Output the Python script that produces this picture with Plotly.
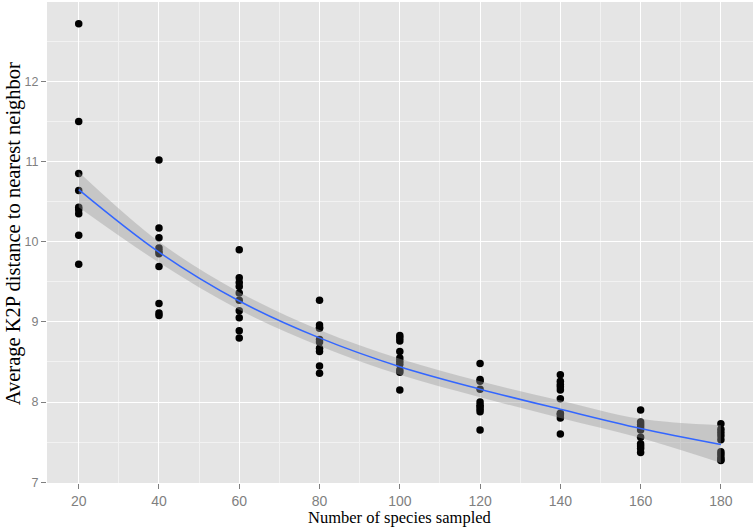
import plotly.graph_objects as go

# Observed data: number of species sampled vs average K2P distance
x_levels = [20, 40, 60, 80, 100, 120, 140, 160, 180]
y_20 = [12.72, 11.50, 10.85, 10.64, 10.43, 10.40, 10.35, 10.08, 9.72]
y_40 = [11.02, 10.17, 10.05, 9.92, 9.88, 9.85, 9.69, 9.23, 9.11, 9.08]
y_60 = [9.90, 9.55, 9.49, 9.44, 9.36, 9.27, 9.14, 9.05, 8.89, 8.80]
y_80 = [9.27, 8.96, 8.93, 8.92, 8.78, 8.75, 8.67, 8.63, 8.45, 8.36]
y_100 = [8.83, 8.80, 8.76, 8.63, 8.55, 8.51, 8.47, 8.40, 8.37, 8.15]
y_120 = [8.48, 8.28, 8.26, 8.16, 8.00, 7.96, 7.94, 7.91, 7.88, 7.65]
y_140 = [8.34, 8.26, 8.22, 8.19, 8.15, 8.04, 7.86, 7.84, 7.80, 7.60]
y_160 = [7.90, 7.75, 7.72, 7.69, 7.65, 7.56, 7.48, 7.45, 7.42, 7.37]
y_180 = [7.73, 7.66, 7.62, 7.58, 7.53, 7.38, 7.35, 7.31, 7.28, 7.27]
groups = [y_20, y_40, y_60, y_80, y_100, y_120, y_140, y_160, y_180]

# Smoothed fit and confidence band
smooth_fit = [10.65, 9.87, 9.26, 8.80, 8.44, 8.16, 7.91, 7.67, 7.47]
band_upper = [10.87, 10.00, 9.37, 8.90, 8.54, 8.26, 8.02, 7.79, 7.71]
band_lower = [10.43, 9.74, 9.15, 8.70, 8.34, 8.06, 7.80, 7.55, 7.24]

x_ticks = [20, 40, 60, 80, 100, 120, 140, 160, 180]
y_ticks = [7, 8, 9, 10, 11, 12]

px, py = [], []
for xv, ys in zip(x_levels, groups):
    for v in ys:
        px.append(xv)
        py.append(v)

fig = go.Figure()
fig.add_trace(go.Scatter(x=px, y=py, mode="markers",
                         marker=dict(color="black", size=7.5, line=dict(width=0)),
                         showlegend=False, hoverinfo="skip"))
fig.add_trace(go.Scatter(x=x_levels, y=band_lower, mode="lines",
                         line=dict(width=0, shape="spline"), showlegend=False,
                         hoverinfo="skip"))
fig.add_trace(go.Scatter(x=x_levels, y=band_upper, mode="lines",
                         line=dict(width=0, shape="spline"), fill="tonexty",
                         fillcolor="rgba(153,153,153,0.4)", showlegend=False,
                         hoverinfo="skip"))
fig.add_trace(go.Scatter(x=x_levels, y=smooth_fit, mode="lines",
                         line=dict(color="#3366FF", width=1.5, shape="spline"),
                         showlegend=False, hoverinfo="skip"))

axis_common = dict(
    showgrid=True, gridcolor="white", gridwidth=1.4,
    zeroline=False, showline=False,
    ticks="outside", ticklen=5, tickwidth=1, tickcolor="#7F7F7F",
    minor=dict(showgrid=True, gridcolor="#F2F2F2", gridwidth=0.8, ticks=""),
)

fig.update_xaxes(range=[12.1, 188], tickvals=x_ticks,
                 minor_tickvals=[30, 50, 70, 90, 110, 130, 150, 170],
                 tickfont=dict(family="Liberation Sans, Arial", size=14, color="#7F7F7F"),
                 **axis_common)
fig.update_yaxes(range=[6.99, 12.99], tickvals=y_ticks,
                 minor_tickvals=[7.5, 8.5, 9.5, 10.5, 11.5, 12.5],
                 tickfont=dict(family="Liberation Sans, Arial", size=12.5, color="#7F7F7F"),
                 **axis_common)

fig.update_layout(
    width=755, height=529,
    margin=dict(l=47, r=2, t=2, b=46),
    plot_bgcolor="#E5E5E5", paper_bgcolor="white",
    annotations=[
        dict(text="Number of species sampled", xref="paper", yref="paper",
             x=0.5, y=-0.0707, xanchor="center", yanchor="middle", showarrow=False,
             font=dict(family="Liberation Serif, Times New Roman", size=16.5, color="black")),
        dict(text="Average K2P distance to nearest neighbor", xref="paper", yref="paper",
             x=-0.0475, y=0.518, xanchor="center", yanchor="middle", showarrow=False,
             textangle=-90,
             font=dict(family="Liberation Serif, Times New Roman", size=20.5, color="black")),
    ],
)

fig.write_html("out.html", config={"displayModeBar": False},
               post_script="document.body.style.margin='0';")
